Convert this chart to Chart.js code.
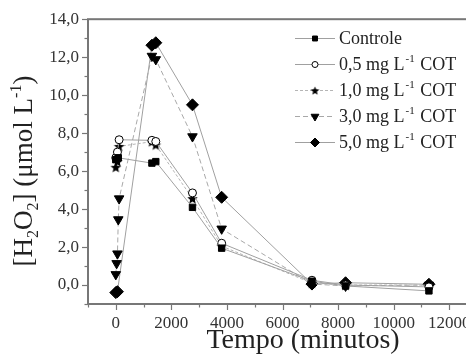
<!DOCTYPE html>
<html>
<head>
<meta charset="utf-8">
<script src="https://cdn.jsdelivr.net/npm/chart.js@4/dist/chart.umd.min.js"></script>
<style>
  html, body { margin: 0; padding: 0; background: #fff; overflow: hidden; width: 466px; height: 356px; }
  #wrap { width: 500px; height: 356px; }
</style>
</head>
<body>
<div id="wrap"><canvas id="chart" width="500" height="356"></canvas></div>
<script>
// time (minutes) and [H2O2] (umol/L)
const ctrlTime = [0, 90, 1300, 1440, 2760, 3810, 7060, 8270, 11270];
const ctrlH2O2 = [6.6, 6.7, 6.42, 6.5, 4.09, 1.94, 0.2, -0.05, -0.31];

const cot05Time = [0, 60, 120, 1300, 1440, 2760, 3810, 7060, 8270, 11270];
const cot05H2O2 = [6.7, 7.0, 7.65, 7.62, 7.56, 4.85, 2.2, 0.25, 0.0, -0.1];

const cot10Time = [0, 60, 120, 1300, 1440, 2760, 3810, 7060, 8270, 11270];
const cot10H2O2 = [6.2, 6.5, 7.3, 7.55, 7.38, 4.55, 2.05, 0.1, 0.0, 0.0];

const cot30Time = [0, 30, 60, 90, 120, 1300, 1440, 2760, 3810, 7060, 8270, 11270];
const cot30H2O2 = [0.56, 1.14, 1.65, 3.45, 4.55, 12.06, 11.88, 7.82, 2.96, 0.05, -0.05, 0.0];

const cot50Time = [0, 60, 1300, 1440, 2760, 3810, 7060, 8270, 11270];
const cot50H2O2 = [-0.4, -0.35, 12.63, 12.76, 9.49, 4.62, 0.05, 0.12, 0.04];

const seriesLabels = ["Controle", "0,5 mg L⁻¹ COT", "1,0 mg L⁻¹ COT", "3,0 mg L⁻¹ COT", "5,0 mg L⁻¹ COT"];

const yTicks = [0, 2, 4, 6, 8, 10, 12, 14];
const xTicks = [0, 2000, 4000, 6000, 8000, 10000, 12000];

const serif = "'Liberation Serif', 'Times New Roman', serif";
const lineColor = "#a0a0a0";

function toXY(t, v) {
  return t.map((x, i) => ({ x: x, y: v[i] }));
}

function makeStar(r) {
  const c = document.createElement("canvas");
  const s = Math.ceil(r * 2 + 2);
  c.width = s;
  c.height = s;
  const g = c.getContext("2d");
  g.beginPath();
  for (let i = 0; i < 10; i++) {
    const a = -Math.PI / 2 + i * Math.PI / 5;
    const rad = i % 2 ? r * 0.45 : r;
    const px = s / 2 + rad * Math.cos(a);
    const py = s / 2 + 0.5 + rad * Math.sin(a);
    if (i === 0) g.moveTo(px, py); else g.lineTo(px, py);
  }
  g.closePath();
  g.fillStyle = "#000";
  g.fill();
  return c;
}

const starBig = makeStar(5.5);
const starSmall = makeStar(4.5);

function fmtComma(v) {
  return v.toFixed(1).replace(".", ",");
}

// frame, ticks, axis titles and legend
const decorPlugin = {
  id: "decor",
  afterDraw(chart) {
    const ctx = chart.ctx;
    const a = chart.chartArea;
    const xs = chart.scales.x;
    const ys = chart.scales.y;
    ctx.save();

    ctx.strokeStyle = "#777";
    ctx.lineWidth = 2;
    ctx.strokeRect(a.left, a.top, a.right - a.left, a.bottom - a.top);

    ctx.lineWidth = 1.2;
    for (let v = -1; v <= 14; v++) {
      const y = Math.round(ys.getPixelForValue(v)) + 0.5;
      const len = (v % 2 === 0) ? 6 : 3.5;
      ctx.beginPath();
      ctx.moveTo(a.left, y);
      ctx.lineTo(a.left - len, y);
      ctx.stroke();
    }
    for (let v = -1000; v <= 13000; v += 1000) {
      const x = Math.round(xs.getPixelForValue(v)) + 0.5;
      const len = (v % 2000 === 0) ? 6 : 3.5;
      ctx.beginPath();
      ctx.moveTo(x, a.bottom);
      ctx.lineTo(x, a.bottom + len);
      ctx.stroke();
    }

    // x title
    ctx.fillStyle = "#222";
    ctx.font = "28px " + serif;
    ctx.textAlign = "center";
    ctx.textBaseline = "alphabetic";
    ctx.fillText("Tempo (minutos)", 303, 348);

    // y title with sub/superscripts
    const big = "27px " + serif;
    const small = "16px " + serif;
    const parts = [
      { t: "[H", f: big, dy: 0 },
      { t: "2", f: small, dy: 6 },
      { t: "O", f: big, dy: 0 },
      { t: "2", f: small, dy: 6 },
      { t: "] (μmol L", f: big, dy: 0 },
      { t: "-1", f: small, dy: -11 },
      { t: ")", f: big, dy: 0 }
    ];
    let total = 0;
    parts.forEach(p => { ctx.font = p.f; p.w = ctx.measureText(p.t).width; total += p.w; });
    ctx.save();
    ctx.translate(32, 171);
    ctx.rotate(-Math.PI / 2);
    ctx.textAlign = "left";
    let px = -total / 2;
    parts.forEach(p => {
      ctx.font = p.f;
      ctx.fillText(p.t, px, p.dy);
      px += p.w;
    });
    ctx.restore();

    // legend
    const rowY = [38, 64, 90, 116, 142];
    chart.data.datasets.forEach((ds, i) => {
      const y = rowY[i];
      ctx.strokeStyle = ds.borderColor;
      ctx.lineWidth = 1;
      ctx.setLineDash(ds.borderDash || []);
      ctx.beginPath();
      ctx.moveTo(295, y + 0.5);
      ctx.lineTo(335, y + 0.5);
      ctx.stroke();
      ctx.setLineDash([]);
      const style = ds.pointStyle === starBig ? starSmall : ds.pointStyle;
      ctx.fillStyle = ds.pointBackgroundColor;
      ctx.strokeStyle = ds.pointBorderColor;
      Chart.helpers.drawPoint(ctx, {
        pointStyle: style,
        radius: ds.legendRadius,
        rotation: ds.pointRotation || 0,
        borderWidth: 1
      }, 315, y + 0.5);

      ctx.fillStyle = "#222";
      ctx.textAlign = "left";
      ctx.textBaseline = "middle";
      const pieces = ds.label.split("⁻¹");
      let tx = 339;
      ctx.font = "18px " + serif;
      ctx.fillText(pieces[0], tx, y + 1);
      tx += ctx.measureText(pieces[0]).width;
      if (pieces.length > 1) {
        ctx.font = "11px " + serif;
        ctx.fillText("-1", tx + 1, y - 5);
        tx += ctx.measureText("-1").width + 2;
        ctx.font = "18px " + serif;
        ctx.fillText(pieces[1], tx, y + 1);
      }
    });

    ctx.restore();
  }
};

const common = {
  showLine: true,
  tension: 0,
  borderColor: lineColor,
  borderWidth: 1,
  pointBackgroundColor: "#000",
  pointBorderColor: "#000",
  pointBorderWidth: 1
};

new Chart(document.getElementById("chart"), {
  type: "scatter",
  data: {
    datasets: [
      Object.assign({}, common, {
        label: seriesLabels[0],
        data: toXY(ctrlTime, ctrlH2O2),
        pointStyle: "rect",
        pointRadius: 4.5,
        legendRadius: 3.5
      }),
      Object.assign({}, common, {
        label: seriesLabels[1],
        data: toXY(cot05Time, cot05H2O2),
        pointStyle: "circle",
        pointRadius: 4,
        pointBackgroundColor: "#fff",
        legendRadius: 3
      }),
      Object.assign({}, common, {
        label: seriesLabels[2],
        data: toXY(cot10Time, cot10H2O2),
        pointStyle: starBig,
        borderColor: "#b5b5b5",
        borderDash: [3, 2],
        legendRadius: 4
      }),
      Object.assign({}, common, {
        label: seriesLabels[3],
        data: toXY(cot30Time, cot30H2O2),
        pointStyle: "triangle",
        pointRotation: 180,
        pointRadius: 5.5,
        borderColor: "#a8a8a8",
        borderDash: [5, 3],
        legendRadius: 4.5
      }),
      Object.assign({}, common, {
        label: seriesLabels[4],
        data: toXY(cot50Time, cot50H2O2),
        pointStyle: "rectRot",
        pointRadius: 6,
        legendRadius: 4.5
      })
    ]
  },
  options: {
    responsive: false,
    animation: false,
    devicePixelRatio: 1,
    layout: { padding: { top: 19, right: 23, left: 0, bottom: 0 } },
    plugins: {
      legend: { display: false },
      tooltip: { enabled: false }
    },
    scales: {
      x: {
        type: "linear",
        min: -1000,
        max: 13000,
        afterFit: s => { s.height = 52; },
        afterBuildTicks: s => { s.ticks = xTicks.map(v => ({ value: v })); },
        grid: { display: false, drawTicks: false },
        border: { display: false },
        ticks: {
          autoSkip: false,
          maxRotation: 0,
          padding: 9,
          color: "#333",
          font: { family: serif, size: 17 },
          callback: v => String(v)
        }
      },
      y: {
        type: "linear",
        min: -1,
        max: 14,
        afterFit: s => { s.width = 88; },
        afterBuildTicks: s => { s.ticks = yTicks.map(v => ({ value: v })); },
        grid: { display: false, drawTicks: false },
        border: { display: false },
        ticks: {
          autoSkip: false,
          padding: 9,
          color: "#333",
          font: { family: serif, size: 17 },
          callback: v => fmtComma(v)
        }
      }
    }
  },
  plugins: [decorPlugin]
});
</script>
</body>
</html>
